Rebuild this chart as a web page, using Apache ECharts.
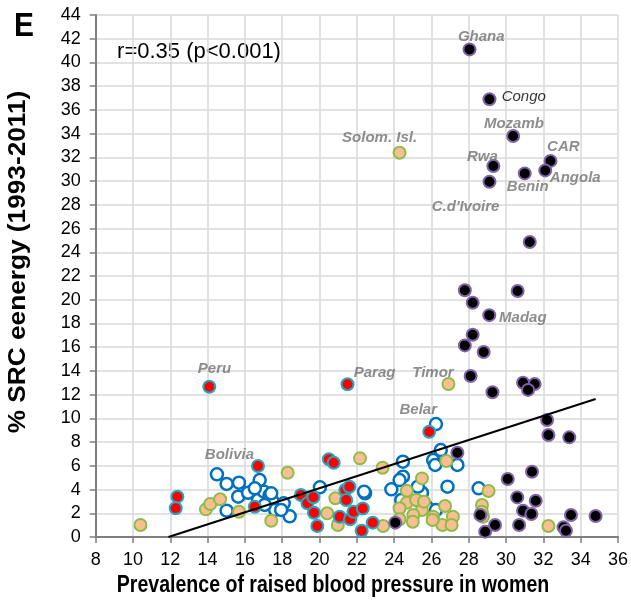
<!DOCTYPE html>
<html><head><meta charset="utf-8">
<script src="https://cdn.jsdelivr.net/npm/echarts@6/dist/echarts.min.js"></script>
<style>html,body{margin:0;padding:0;background:#fff}#c{width:631px;height:600px}</style>
</head><body><div id="c"></div>
<script>
// Black (purple edge) countries
const blackPts = [
 [28.04,41.1],[29.11,36.9],[30.38,33.8],[32.38,31.7],[32.1,30.9],[29.32,31.27],[31.0,30.65],[29.11,29.95],
 [31.27,24.86],[27.79,20.8],[30.62,20.73],[28.21,19.75],[29.1,18.7],[28.21,17.05],[27.79,16.15],[28.8,15.6],
 [28.1,13.57],[29.27,12.2],[30.91,13.0],[31.53,12.9],[31.18,12.4],
 [32.2,9.86],[32.27,8.6],[33.39,8.4],[31.39,5.5],[30.09,4.89],[30.6,3.34],[31.59,3.06],[30.91,2.22],[31.36,1.94],
 [33.48,1.85],[34.8,1.77],[28.62,1.85],[29.41,1.01],[30.7,1.01],[28.88,0.45],[33.08,0.82],[33.21,0.53],
 [27.39,7.1],[24.06,1.21]
];
// Red (teal edge)
const redPts = [
 [14.09,12.67],[21.5,12.87],[25.88,8.87],[12.38,3.4],[12.29,2.42],[16.7,5.98],[20.5,6.55],[20.76,6.26],
 [16.53,2.55],[19.0,3.54],[19.35,2.84],[19.67,3.35],[19.7,2.05],[19.88,0.93],[21.38,3.96],[21.43,3.12],
 [21.6,4.24],[21.08,1.71],[21.64,1.49],[21.82,2.13],[22.26,0.53],[22.32,2.4],[22.85,1.21]
];
// Tan (green edge)
const tanPts = [
 [24.29,32.39],[26.91,12.9],[10.4,1.01],[13.91,2.33],[14.14,2.78],[14.67,3.18],[15.68,2.13],[18.29,5.42],
 [17.41,1.37],[20.41,2.0],[20.98,1.01],[20.85,3.26],[22.17,6.63],[23.38,5.84],[25.49,4.94],[26.8,6.4],
 [24.68,3.9],[24.68,2.89],[24.29,2.42],[25.27,3.06],[25.49,2.27],[25.03,1.85],[26.09,1.71],[26.73,2.61],
 [27.15,1.71],[26.59,1.01],[27.08,1.01],[23.41,0.93],[24.29,1.49],[29.06,3.88],[28.71,2.7],[28.76,1.71],
 [28.7,2.13],[32.27,0.93],[25.0,1.29],[26.06,1.43],[25.18,3.12],[25.6,2.98]
];
// Open blue circles
const bluePts = [
 [14.5,5.28],[15.02,4.47],[15.68,4.58],[15.64,3.4],[15.02,2.22],[16.17,3.73],[16.79,4.8],[16.7,3.12],
 [17.02,3.82],[17.32,3.54],[17.5,2.98],[17.62,2.28],[18.08,2.84],[18.4,1.74],[20.02,4.19],[16.53,4.1],
 [17.41,3.68],[17.06,2.7],[17.94,2.28],[22.44,3.68],[26.24,9.52],[26.5,7.33],[26.09,6.49],[26.2,6.07],
 [24.47,6.35],[24.47,5.08],[24.29,4.8],[23.85,4.02],[25.49,3.73],[22.39,3.82],[26.86,4.24],[28.53,4.1],
 [27.39,6.07],[25.27,4.24],[24.38,3.12],[25.74,2.55],[26.24,2.27]
];
// Regression line end points
const trendLine = [[11.9,0],[34.8,11.63]];
// Country labels (text anchor in data coordinates)
const labelNames = ["Ghana","Congo","Mozamb","CAR","Angola","Rwa","Benin","C.d'Ivoire","Madag","Solom. Isl.","Peru","Parag","Timor","Belar","Bolivia"];
const labelX = [28.67,30.95,30.42,33.07,33.71,28.73,31.16,27.83,30.90,23.22,14.37,22.95,26.08,25.29,15.17];
const labelY = [42.14,37.08,34.81,32.87,30.26,32.03,29.55,27.86,18.46,33.63,14.16,13.82,13.82,10.7,6.91];
const xTicks = {min:8, max:36, interval:2};
const yTicks = {min:0, max:44, interval:2};

const FONT = "'Liberation Sans',Arial,sans-serif";
const chart = echarts.init(document.getElementById('c'), null, {renderer:'canvas'});
const labelData = labelNames.map((n,i)=>({name:n, value:[labelX[i],labelY[i]],
  label: n==='Congo' ? {color:'#000', fontWeight:'normal'} : {}}));
const sym = 12;
chart.setOption({
  animation:false,
  grid:{left:95.7, right:6.7, top:15, bottom:63},
  xAxis:{type:'value', min:xTicks.min, max:xTicks.max, interval:xTicks.interval,
    axisLine:{show:true, onZero:false, lineStyle:{color:'#7f7f7f', width:2}},
    axisTick:{show:true, length:6, lineStyle:{color:'#7f7f7f', width:1.5}},
    axisLabel:{fontFamily:FONT, fontSize:18, color:'#000', margin:14},
    splitLine:{show:true, lineStyle:{color:'#d9d9d9', width:1.5}}},
  yAxis:{type:'value', min:yTicks.min, max:yTicks.max, interval:yTicks.interval,
    axisLine:{show:true, onZero:false, lineStyle:{color:'#7f7f7f', width:2}},
    axisTick:{show:true, length:6, lineStyle:{color:'#7f7f7f', width:1.5}},
    axisLabel:{fontFamily:FONT, fontSize:18, color:'#000', margin:15},
    splitLine:{show:true, lineStyle:{color:'#d9d9d9', width:1.5}}},
  series:[
    {type:'scatter', data:bluePts, symbolSize:sym, z:2,
      itemStyle:{color:'#fff', borderColor:'#0070c0', borderWidth:2.5, opacity:1}},
    {type:'scatter', data:tanPts, symbolSize:sym, z:3,
      itemStyle:{color:'#f9bf90', borderColor:'#8cbd4a', borderWidth:2, opacity:1}},
    {type:'scatter', data:redPts, symbolSize:sym, z:4,
      itemStyle:{color:'#ff0000', borderColor:'#21a9c6', borderWidth:2, opacity:1}},
    {type:'scatter', data:blackPts, symbolSize:sym, z:5,
      itemStyle:{color:'#000', borderColor:'#8064a8', borderWidth:2, opacity:1}},
    {type:'line', data:trendLine, symbol:'none', z:6,
      lineStyle:{color:'#000', width:2}},
    {type:'scatter', data:labelData, symbolSize:0, z:7, silent:true,
      label:{show:true, position:'inside', formatter:'{b}', fontFamily:FONT,
        fontSize:15, fontWeight:'bold', fontStyle:'italic', color:'#717171'}}
  ],
  graphic:[
    {type:'text', x:14, y:10, scaleX:0.88, style:{text:'E', font:"bold 34px "+FONT, fill:'#000'}},
    {type:'text', x:199, y:52, style:{text:'r=0.35 (p<0.001)', font:"22px "+FONT, fill:'#000', align:'center', verticalAlign:'middle'}},
    {type:'text', x:333, y:586, scaleX:0.85, style:{text:'Prevalence of raised blood pressure in women', font:"bold 23px "+FONT, fill:'#000', align:'center', verticalAlign:'middle'}},
    {type:'text', x:19, y:262, rotation:Math.PI/2, scaleX:1.14, style:{text:'% SRC eenergy (1993-2011)', font:"bold 23px "+FONT, fill:'#000', align:'center', verticalAlign:'middle'}}
  ]
});
</script></body></html>
